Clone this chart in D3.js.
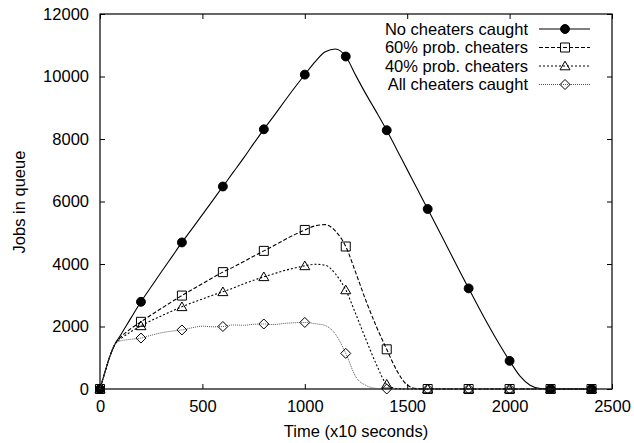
<!DOCTYPE html>
<html>
<head>
<meta charset="utf-8">
<script src="https://cdn.jsdelivr.net/npm/d3@7"></script>
<style>
body { margin: 0; background: #fff; }
text { font-family: "Liberation Sans", Arial, sans-serif; }
</style>
</head>
<body>
<svg id="chart"></svg>
<script>
// time axis, x10 seconds
var times = [0,25,50,75,100,150,200,250,300,350,400,450,500,550,600,650,700,750,800,850,900,950,
             1000,1050,1100,1150,1200,1250,1300,1350,1400,1450,1500,1550,1600,1650,1700,1750,1800,
             1850,1900,1950,2000,2050,2100,2150,2200,2250,2300,2350,2400];

var noneCaught = [0,560,1080,1460,1720,2260,2790,3270,3750,4220,4690,5130,5580,6030,6480,6930,7380,7850,
                  8310,8750,9200,9640,10060,10470,10790,10880,10640,10020,9420,8860,8280,7650,7020,6390,
                  5760,5130,4490,3850,3220,2600,2000,1430,900,420,120,15,0,0,0,0,0];

var prob60 = [0,560,1080,1460,1650,1930,2150,2370,2580,2790,2990,3180,3370,3560,3740,3900,4070,4250,
              4420,4590,4770,4940,5090,5220,5260,5050,4560,3700,2800,1990,1270,580,130,10,
              0,0,0,0,0,0,0,0,0,0,0,0,0,0,0,0,0];

var prob40 = [0,560,1080,1460,1600,1830,2020,2190,2340,2490,2630,2760,2880,3000,3110,3230,3360,3480,
              3590,3690,3790,3870,3940,3990,3960,3680,3170,2380,1560,780,150,10,0,0,
              0,0,0,0,0,0,0,0,0,0,0,0,0,0,0,0,0];

var allCaught = [0,560,1080,1460,1540,1590,1630,1720,1800,1850,1890,1960,2010,1990,2000,2050,2040,2070,
                 2080,2060,2100,2120,2130,2090,2030,1750,1140,380,110,20,0,0,0,0,
                 0,0,0,0,0,0,0,0,0,0,0,0,0,0,0,0,0];

var seriesNames = ["No cheaters caught","60% prob. cheaters","40% prob. cheaters","All cheaters caught"];
var markerTimes = [0,200,400,600,800,1000,1200,1400,1600,1800,2000,2200,2400];
var xTicks = [0,500,1000,1500,2000,2500];
var yTicks = [0,2000,4000,6000,8000,10000,12000];

var screen = {width:634,height:443}
var plot = {left:100,right:612,top:14,bottom:389}

var svg = d3.select("#chart")
    .attr("width",screen.width)
    .attr("height",screen.height)

var xScale = d3.scaleLinear()
    .domain([0,2500])
    .range([plot.left,plot.right])

var yScale = d3.scaleLinear()
    .domain([0,12000])
    .range([plot.bottom,plot.top])

var fontSize = "16.5px";

// axes, ticks pointing inward, mirrored on top/right
var drawAxes = function()
{
    svg.append("g")
        .attr("transform","translate(0,"+plot.bottom+")")
        .call(d3.axisBottom(xScale).tickValues(xTicks).tickFormat(d3.format("d")).tickSizeInner(-5).tickSizeOuter(0).tickPadding(11))
    svg.append("g")
        .attr("transform","translate("+plot.left+",0)")
        .call(d3.axisLeft(yScale).tickValues(yTicks).tickFormat(d3.format("d")).tickSizeInner(-5).tickSizeOuter(0).tickPadding(11))
    svg.append("g")
        .attr("transform","translate(0,"+plot.top+")")
        .call(d3.axisTop(xScale).tickValues(xTicks).tickSizeInner(-5).tickSizeOuter(0).tickFormat(""))
    svg.append("g")
        .attr("transform","translate("+plot.right+",0)")
        .call(d3.axisRight(yScale).tickValues(yTicks).tickSizeInner(-5).tickSizeOuter(0).tickFormat(""))

    svg.selectAll(".domain").remove();
    svg.selectAll(".tick line").attr("stroke","#000").attr("stroke-width",1);
    svg.selectAll(".tick text")
        .attr("font-size",fontSize)
        .attr("font-family","'Liberation Sans', Arial, sans-serif")
        .attr("fill","#000");

    svg.append("rect")
        .attr("x",plot.left)
        .attr("y",plot.top)
        .attr("width",plot.right-plot.left)
        .attr("height",plot.bottom-plot.top)
        .attr("fill","none")
        .attr("stroke","#000")
        .attr("stroke-width",1.2)
}

var drawLabels = function()
{
    svg.append("text")
        .attr("x",(plot.left+plot.right)/2)
        .attr("y",437)
        .attr("text-anchor","middle")
        .attr("font-size",fontSize)
        .text("Time (x10 seconds)")

    svg.append("text")
        .attr("transform","translate(25,202) rotate(-90)")
        .attr("text-anchor","middle")
        .attr("font-size",fontSize)
        .text("Jobs in queue")
}

var styles = [
    {values:noneCaught, dash:null, stroke:"#000", width:1.1, marker:"circle"},
    {values:prob60, dash:"4,2", stroke:"#000", width:1.1, marker:"square"},
    {values:prob40, dash:"2,2", stroke:"#000", width:1.1, marker:"triangle"},
    {values:allCaught, dash:"1,1", stroke:"#555", width:1, marker:"diamond"}
]

var markerPath = function(kind)
{
    if (kind=="circle") return d3.symbol().type(d3.symbolCircle).size(62)();
    if (kind=="square") return "M-4.5,-4.5L4.5,-4.5L4.5,4.5L-4.5,4.5Z";
    if (kind=="triangle") return "M0,-4.8L5,3.8L-5,3.8Z";
    return "M0,-5L5,0L0,5L-5,0Z";
}

var drawMarker = function(g,kind,x,y)
{
    g.append("path")
        .attr("d",markerPath(kind))
        .attr("transform","translate("+x+","+y+")")
        .attr("fill",kind=="circle"?"#000":"none")
        .attr("stroke","#000")
        .attr("stroke-width",1)
}

var drawSeries = function()
{
    var line = d3.line()
        .x(function(d){ return xScale(d.t); })
        .y(function(d){ return yScale(d.v); })
        .curve(d3.curveMonotoneX)

    styles.forEach(function(s)
    {
        var pts = times.map(function(t,i){ return {t:t,v:s.values[i]}; });
        var g = svg.append("g");
        g.append("path")
            .datum(pts)
            .attr("d",line)
            .attr("fill","none")
            .attr("stroke",s.stroke)
            .attr("stroke-width",s.width)
            .attr("stroke-dasharray",s.dash)
        pts.filter(function(d){ return markerTimes.indexOf(d.t)>=0; })
            .forEach(function(d)
            {
                drawMarker(g,s.marker,xScale(d.t),yScale(d.v));
            })
    })
}

var drawLegend = function()
{
    var rows = [29,47.5,66,84.5];
    styles.forEach(function(s,i)
    {
        svg.append("text")
            .attr("x",528)
            .attr("y",rows[i])
            .attr("dy","0.35em")
            .attr("text-anchor","end")
            .attr("font-size",fontSize)
            .text(seriesNames[i])
        svg.append("line")
            .attr("x1",539)
            .attr("x2",590)
            .attr("y1",rows[i])
            .attr("y2",rows[i])
            .attr("stroke",s.stroke)
            .attr("stroke-width",s.width)
            .attr("stroke-dasharray",s.dash)
        drawMarker(svg,s.marker,565,rows[i]);
    })
}

drawAxes();
drawLabels();
drawSeries();
drawLegend();
</script>
</body>
</html>
